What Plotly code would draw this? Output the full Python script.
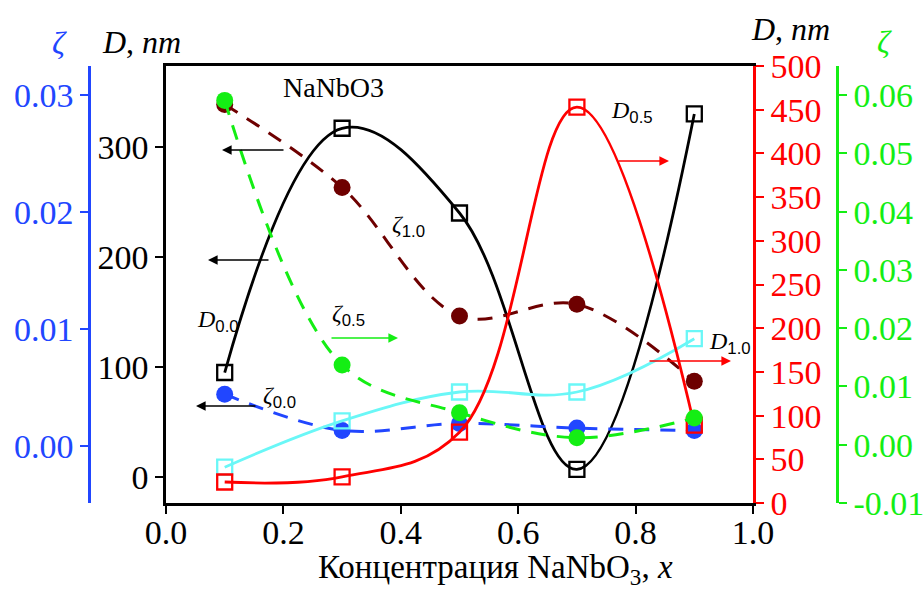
import plotly.graph_objects as go

W, H = 923, 590

# ---------------- data ----------------
x_vals = [0.1, 0.3, 0.5, 0.7, 0.9]
D_00 = [95, 317, 240, 7, 330]          # black, left D axis
D_05 = [24, 30, 81, 453, 89]           # red, right D axis
D_10 = [41, 94, 127, 127, 188]         # cyan, right D axis
zeta_00 = [0.0044, 0.0013, 0.0019, 0.0015, 0.0013]   # blue, left zeta axis
zeta_10 = [0.0292, 0.0221, 0.0111, 0.0121, 0.0055]   # maroon, left zeta axis
zeta_05 = [0.0591, 0.0137, 0.0055, 0.0012, 0.0046]   # green, right zeta axis

x_ticks = [0.0, 0.2, 0.4, 0.6, 0.8, 1.0]
x_ticktext = ["0.0", "0.2", "0.4", "0.6", "0.8", "1.0"]
dl_ticks = [0, 100, 200, 300]
zl_ticks = [0.00, 0.01, 0.02, 0.03]
zl_ticktext = ["0.00", "0.01", "0.02", "0.03"]
dr_ticks = [0, 50, 100, 150, 200, 250, 300, 350, 400, 450, 500]
zr_ticks = [-0.01, 0.00, 0.01, 0.02, 0.03, 0.04, 0.05, 0.06]
zr_ticktext = ["-0.01", "0.00", "0.01", "0.02", "0.03", "0.04", "0.05", "0.06"]

# ---------------- style ----------------
BLACK = "#000000"
RED = "#ff0000"
CYAN = "#6af7f7"
BLUE = "#2146ff"
GREEN = "#14ee14"
MAROON = "#6e0000"
SERIF = "Liberation Serif"
TICKFONT = 34

def px_x(p):
    return p / W

def px_y(p):
    return 1 - p / H

fig = go.Figure()

sq = dict(symbol="square-open", size=15, line=dict(width=2.3))
ci = dict(symbol="circle", size=17)
LW = 2.8

fig.add_trace(go.Scatter(x=x_vals, y=D_00, mode="lines+markers", yaxis="y",
                         line=dict(color=BLACK, width=LW, shape="spline", smoothing=1.1),
                         marker=dict(color=BLACK, **sq)))
fig.add_trace(go.Scatter(x=x_vals, y=zeta_10, mode="lines+markers", yaxis="y2",
                         line=dict(color=MAROON, width=3, shape="spline", smoothing=1.0, dash="15px,11px"),
                         marker=dict(color=MAROON, **ci)))
fig.add_trace(go.Scatter(x=x_vals, y=zeta_00, mode="lines+markers", yaxis="y2",
                         line=dict(color=BLUE, width=3, shape="spline", smoothing=1.0, dash="15px,11px"),
                         marker=dict(color=BLUE, **ci)))
fig.add_trace(go.Scatter(x=x_vals, y=D_10, mode="lines+markers", yaxis="y3",
                         line=dict(color=CYAN, width=LW, shape="spline", smoothing=1.1),
                         marker=dict(color=CYAN, **sq)))
fig.add_trace(go.Scatter(x=x_vals, y=D_05, mode="lines+markers", yaxis="y3",
                         line=dict(color=RED, width=LW, shape="spline", smoothing=1.1),
                         marker=dict(color=RED, **sq)))
fig.add_trace(go.Scatter(x=x_vals, y=zeta_05, mode="lines+markers", yaxis="y4",
                         line=dict(color=GREEN, width=3, shape="spline", smoothing=1.0, dash="15px,11px"),
                         marker=dict(color=GREEN, **ci)))

x0, x1 = 166, 753
yt, yb = 66, 503
dom_x = [px_x(x0), px_x(x1)]
dom_y = [px_y(yb), px_y(yt)]

common = dict(showgrid=False, zeroline=False, ticks="outside", ticklen=8, tickwidth=2,
              showline=True, linewidth=2.5, automargin=False)

fig.update_layout(
    width=W, height=H,
    margin=dict(l=0, r=0, t=0, b=0),
    paper_bgcolor="white", plot_bgcolor="white",
    showlegend=False,
    xaxis=dict(domain=dom_x, range=[0, 1], tickvals=x_ticks, ticktext=x_ticktext,
               linecolor=BLACK, tickcolor=BLACK, mirror=True, ticklabelstandoff=-11,
               tickfont=dict(family=SERIF, size=TICKFONT, color=BLACK), **common),
    yaxis=dict(domain=dom_y, range=[-23.6, 373.6], tickvals=dl_ticks,
               linecolor=BLACK, tickcolor=BLACK, anchor="x", side="left",
               tickfont=dict(family=SERIF, size=TICKFONT, color=BLACK), **common),
    yaxis2=dict(domain=dom_y, range=[-0.00491, 0.03249], tickvals=zl_ticks, ticktext=zl_ticktext,
                linecolor=BLUE, tickcolor=BLUE, overlaying="y", anchor="free",
                position=px_x(89), side="left",
                tickfont=dict(family=SERIF, size=TICKFONT, color=BLUE), **common),
    yaxis3=dict(domain=dom_y, range=[0, 500], tickvals=dr_ticks,
                linecolor=RED, tickcolor=RED, overlaying="y", anchor="x", side="right",
                tickfont=dict(family=SERIF, size=TICKFONT, color=RED), **common),
    yaxis4=dict(domain=dom_y, range=[-0.01, 0.065], tickvals=zr_ticks, ticktext=zr_ticktext,
                linecolor=GREEN, tickcolor=GREEN, overlaying="y", anchor="free",
                position=px_x(837), side="right",
                tickfont=dict(family=SERIF, size=TICKFONT, color=GREEN), **common),
)

ann = []

def label(text, cx, cy, size, color=BLACK, family=SERIF):
    ann.append(dict(text=text, x=px_x(cx), y=px_y(cy), xref="paper", yref="paper",
                    showarrow=False, xanchor="center", yanchor="middle",
                    font=dict(family=family, size=size, color=color)))

def sublab(main, sub, cx, cy, size=24):
    t = (f"<i>{main}</i><sub><span style='font-family:Liberation Sans'>{sub}</span></sub>")
    label(t, cx, cy, size)

# axis titles
label("<i>ζ</i>", 60, 43, 32, BLUE)
label("<i>D</i>, <i>nm</i>", 141, 42, 32)
label("<i>D</i>, <i>nm</i>", 790, 29, 32)
label("<i>ζ</i>", 884, 42, 32, GREEN)
label("Концентрация NaNbO<sub>3</sub>, <i>x</i>", 496, 569, 33)

# in-plot labels
label("NaNbO3", 333, 88, 28)
sublab("D", "0.0", 218, 321)
sublab("ζ", "1.0", 408, 226)
sublab("ζ", "0.5", 348, 315)
sublab("D", "0.5", 632, 112)
sublab("D", "1.0", 730, 343)
sublab("ζ", "0.0", 279, 397)

def arrow(xt, xh, yy, color):
    ann.append(dict(text="", x=px_x(xh), y=px_y(yy), xref="paper", yref="paper",
                    ax=xt - xh, ay=0, showarrow=True, arrowhead=2, arrowsize=1.2,
                    arrowwidth=1.6, arrowcolor=color, standoff=0, startstandoff=0))

arrow(285, 222, 150, BLACK)
arrow(270, 208, 260, BLACK)
arrow(257, 196, 406, BLACK)
arrow(330, 398, 338, GREEN)
arrow(617, 669, 161, RED)
arrow(648, 731, 361, RED)

fig.update_layout(annotations=ann)

fig.write_html("out.html")
